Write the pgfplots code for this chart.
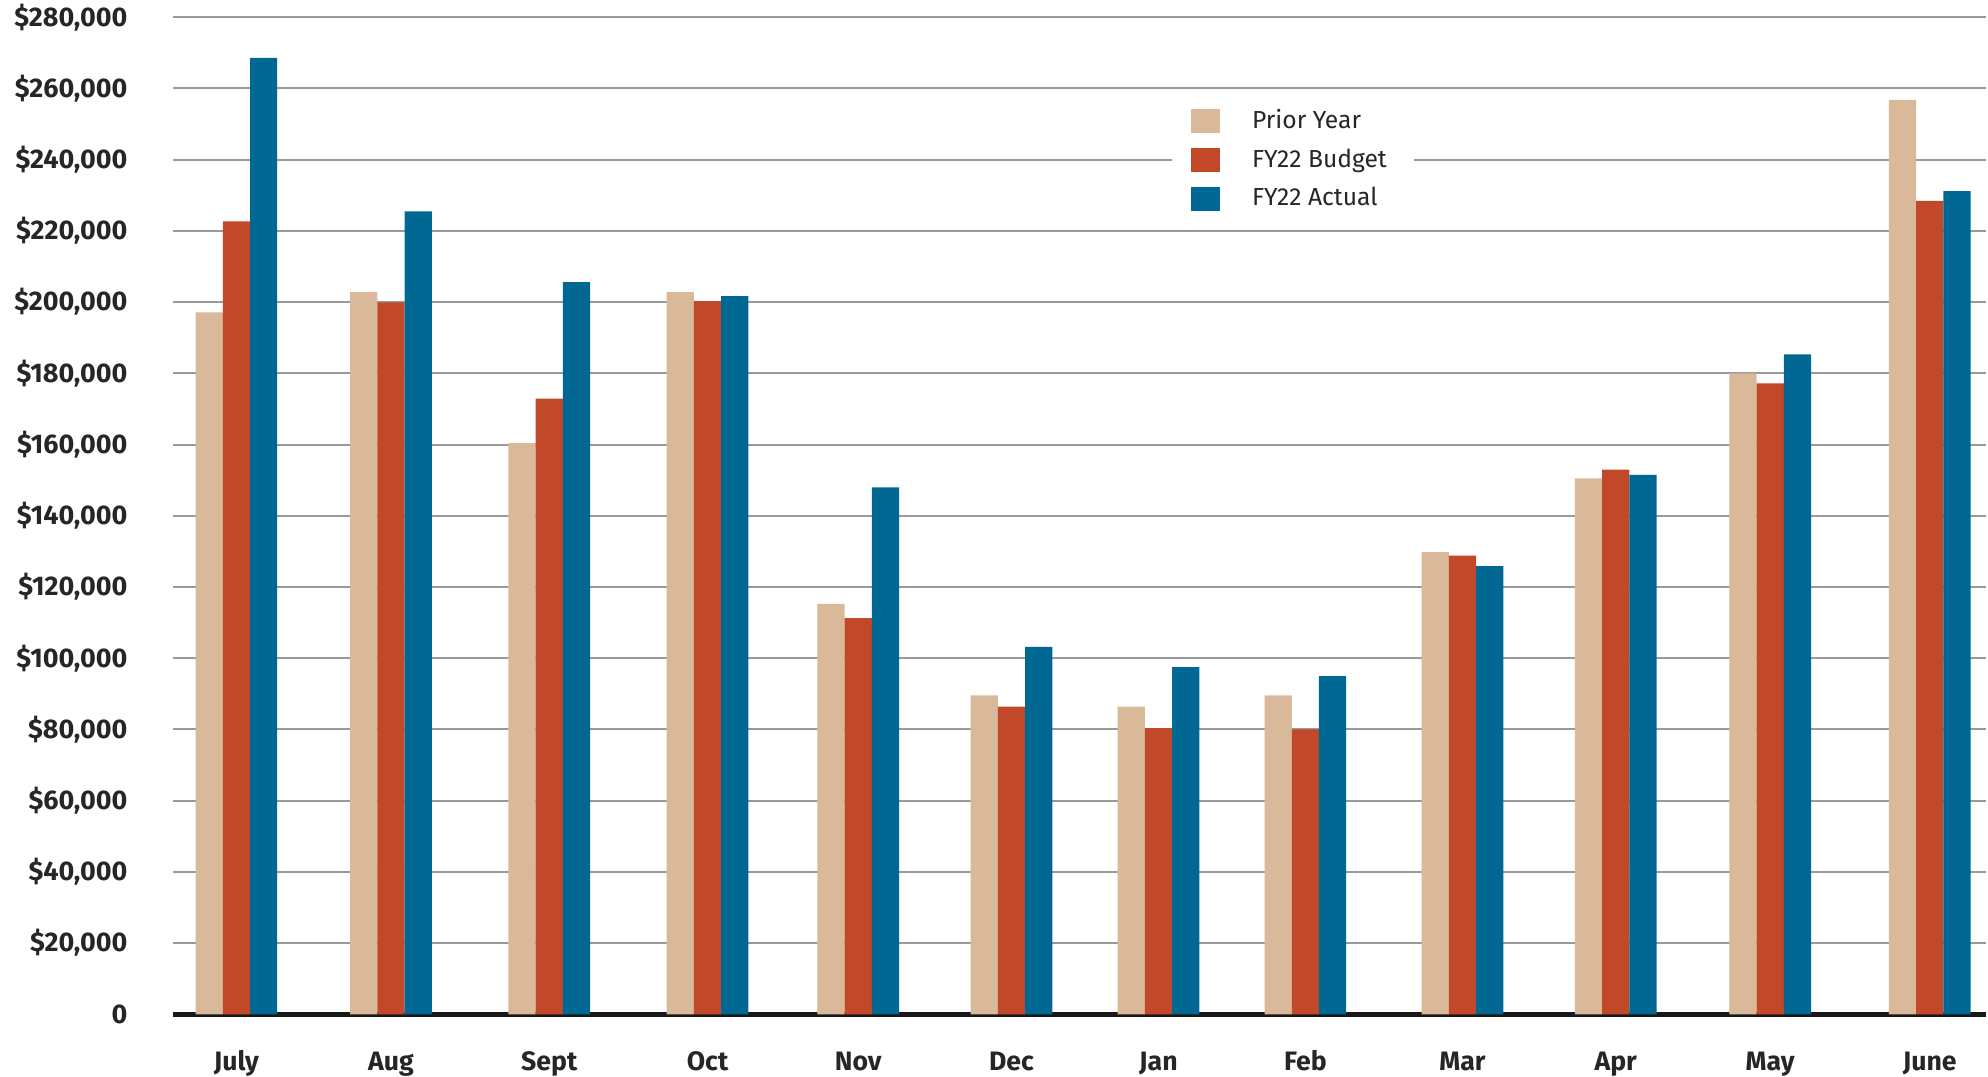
\documentclass[border={3.8pt 0pt 0pt 0.6pt}]{standalone}
\usepackage{fontspec}
\setmainfont{Fira Sans}[BoldFont={Fira Sans Bold}]
\usepackage{pgfplots}
\pgfplotsset{compat=1.18}
\definecolor{py}{HTML}{D9B99A}
\definecolor{bud}{HTML}{C1492A}
\definecolor{act}{HTML}{006892}
\definecolor{gridgray}{HTML}{9A9A9A}
\begin{document}
\begin{tikzpicture}
\begin{axis}[
  scale only axis,
  width=544.2pt, height=299.4pt,
  xmin=137, xmax=1568,
  ymin=0, ymax=280000,
  scaled y ticks=false,
  axis x line=bottom, axis y line=left,
  x axis line style={line width=1.5pt, draw=black!90, -},
  y axis line style={draw=none},
  major tick length=0pt,
  ymajorgrids,
  grid style={gridgray, line width=0.6pt},
  ytick={0,20000,...,280000},
  yticklabels={0,{\$20,000},{\$40,000},{\$60,000},{\$80,000},{\$100,000},{\$120,000},{\$140,000},{\$160,000},{\$180,000},{\$200,000},{\$220,000},{\$240,000},{\$260,000},{\$280,000}},
  yticklabel style={font=\fontsize{8.1}{9}\selectfont\bfseries, text=black!85, anchor=east, inner sep=0.5pt, xshift=-13pt},
  xtick={187,309,434,559,678,799,915,1031,1155,1276,1398,1524},
  xticklabels={July,Aug,Sept,Oct,Nov,Dec,Jan,Feb,Mar,Apr,May,June},
  xticklabel style={font=\fontsize{8}{9}\selectfont\bfseries, text=black!85, anchor=base, inner sep=0pt, yshift=-16.8pt},
  legend style={at={(0.5505,0.922)}, anchor=north west, draw=none, fill=white,
    font=\fontsize{7.4}{9}\selectfont, text=black!85, row sep=0.6pt,
    inner xsep=6pt, inner ysep=2pt},
  legend cell align=left,
  legend image code/.code={\fill[#1] (0pt,-3.6pt) rectangle (8.7pt,3.6pt);},
  clip=false,
]
\addplot[ybar, bar width=21.5, bar shift=-21.5, fill=py, draw=none] coordinates {
(187,197100) (309,202800) (434,160400) (559,202800) (678,115300) (799,89600)
(915,86400) (1031,89600) (1155,129800) (1276,150500) (1398,180000) (1524,256800)};
\addlegendentry{\hspace{7.5pt}Prior Year}
\addplot[ybar, bar width=21.5, bar shift=0, fill=bud, draw=none] coordinates {
(187,222700) (309,199900) (434,172900) (559,200300) (678,111300) (799,86400)
(915,80400) (1031,80000) (1155,128800) (1276,153000) (1398,177200) (1524,228400)};
\addlegendentry{\hspace{7.5pt}FY22 Budget}
\addplot[ybar, bar width=21.5, bar shift=21.5, fill=act, draw=none] coordinates {
(187,268600) (309,225500) (434,205600) (559,201700) (678,148000) (799,103200)
(915,97500) (1031,95000) (1155,125900) (1276,151500) (1398,185300) (1524,231200)};
\addlegendentry{\hspace{7.5pt}FY22 Actual}
\end{axis}
\end{tikzpicture}
\end{document}
